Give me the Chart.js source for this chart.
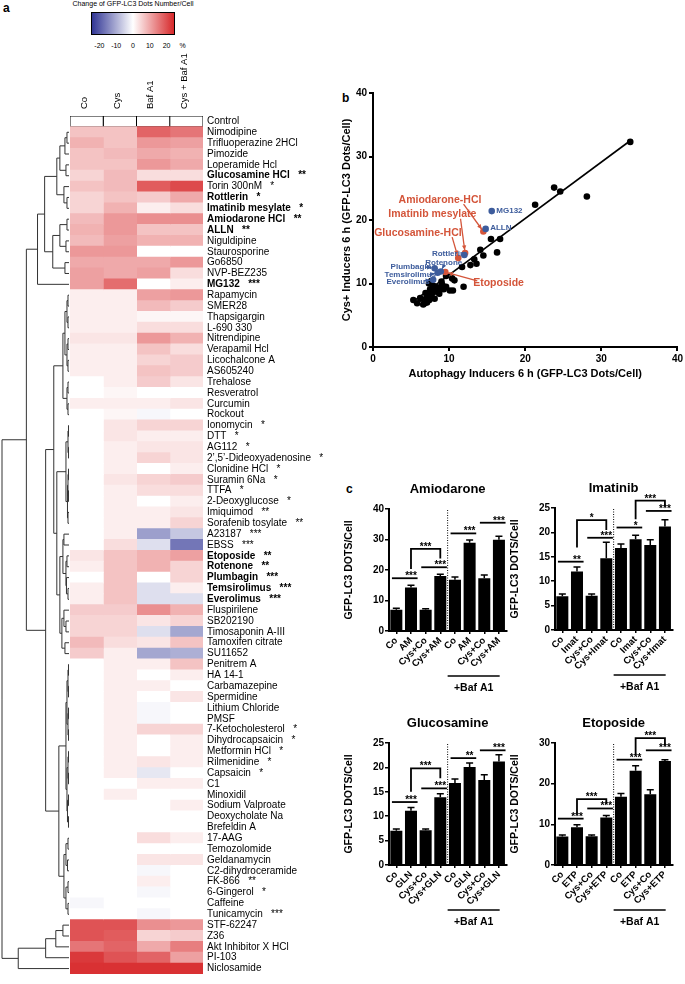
<!DOCTYPE html>
<html>
<head>
<meta charset="utf-8">
<title>Autophagy inducers screen</title>
<script src="https://cdn.jsdelivr.net/npm/chart.js@4.4.1/dist/chart.umd.min.js"></script>
<style>
  body { margin: 0; width: 685px; height: 984px; position: relative; overflow: hidden; background: #fff;
         font-family: 'Liberation Sans', Arial, sans-serif; color: #000; }
  canvas { position: absolute; }
  .panel { position: absolute; font-weight: bold; font-size: 12px; }
  #scaleTitle { position: absolute; left: 60px; width: 146px; top: 0; text-align: center; font-size: 7px; }
  #scaleBar { position: absolute; left: 91px; top: 12px; width: 84px; height: 23px; box-sizing: border-box;
              border: 1px solid #000;
              background: linear-gradient(to right, rgb(49,54,149), #fff 50%, rgb(215,40,42)); }
  .scaleTick { position: absolute; top: 42px; font-size: 7px; transform: translateX(-50%); }
</style>
</head>
<body>
<div class="panel" style="left:3px;top:1px">a</div>
<div class="panel" style="left:342px;top:91px">b</div>
<div class="panel" style="left:346px;top:482px">c</div>
<div id="scaleTitle">Change of GFP-LC3 Dots Number/Cell</div>
<div id="scaleBar"></div>
<div id="scaleTicks"></div>

<canvas id="heatmap" width="340" height="984" style="left:0;top:0"></canvas>
<canvas id="scatter" width="345" height="300" style="left:340px;top:85px"></canvas>
<canvas id="amio" width="165" height="220" style="left:343px;top:480px"></canvas>
<canvas id="imat" width="165" height="220" style="left:509px;top:479px"></canvas>
<canvas id="gluc" width="165" height="220" style="left:343px;top:714px"></canvas>
<canvas id="etop" width="165" height="220" style="left:509px;top:714px"></canvas>

<script>
const FONT = "'Liberation Sans', Arial, sans-serif";
Chart.defaults.font.family = FONT;
Chart.defaults.color = '#000';
Chart.defaults.animation = false;
Chart.defaults.plugins.legend.display = false;
Chart.defaults.plugins.tooltip.enabled = false;

// ---------- panel a: heatmap ----------
const drugNames = ['Control', 'Nimodipine', 'Trifluoperazine 2HCl', 'Pimozide', 'Loperamide Hcl',
  'Glucosamine HCl', 'Torin 300nM', 'Rottlerin', 'Imatinib mesylate', 'Amiodarone HCl', 'ALLN',
  'Niguldipine', 'Staurosporine', 'Go6850', 'NVP-BEZ235', 'MG132', 'Rapamycin', 'SMER28',
  'Thapsigargin', 'L-690 330', 'Nitrendipine', 'Verapamil Hcl', 'Licochalcone A', 'AS605240',
  'Trehalose', 'Resveratrol', 'Curcumin', 'Rockout', 'Ionomycin', 'DTT', 'AG112',
  '2’,5’-Dideoxyadenosine', 'Clonidine HCl', 'Suramin 6Na', 'TTFA', '2-Deoxyglucose', 'Imiquimod',
  'Sorafenib tosylate', 'A23187', 'EBSS', 'Etoposide', 'Rotenone', 'Plumbagin', 'Temsirolimus',
  'Everolimus', 'Fluspirilene', 'SB202190', 'Timosaponin A-III', 'Tamoxifen citrate', 'SU11652',
  'Penitrem A', 'HA 14-1', 'Carbamazepine', 'Spermidine', 'Lithium Chloride', 'PMSF',
  '7-Ketocholesterol', 'Dihydrocapsaicin', 'Metformin HCl', 'Rilmenidine', 'Capsaicin', 'C1',
  'Minoxidil', 'Sodium Valproate', 'Deoxycholate Na', 'Brefeldin A', '17-AAG', 'Temozolomide',
  'Geldanamycin', 'C2-dihydroceramide', 'FK-866', '6-Gingerol', 'Caffeine', 'Tunicamycin',
  'STF-62247', 'Z36', 'Akt Inhibitor X HCl', 'PI-103', 'Niclosamide'];

const drugStars = {
  'Glucosamine HCl': '**', 'Torin 300nM': '*', 'Rottlerin': '*', 'Imatinib mesylate': '*',
  'Amiodarone HCl': '**', 'ALLN': '**', 'MG132': '***', 'Ionomycin': '*', 'DTT': '*', 'AG112': '*',
  '2’,5’-Dideoxyadenosine': '*', 'Clonidine HCl': '*', 'Suramin 6Na': '*', 'TTFA': '*',
  '2-Deoxyglucose': '*', 'Imiquimod': '**', 'Sorafenib tosylate': '**', 'A23187': '***', 'EBSS': '***',
  'Etoposide': '**', 'Rotenone': '**', 'Plumbagin': '***', 'Temsirolimus': '***', 'Everolimus': '***',
  '7-Ketocholesterol': '*', 'Dihydrocapsaicin': '*', 'Metformin HCl': '*', 'Rilmenidine': '*',
  'Capsaicin': '*', 'FK-866': '**', '6-Gingerol': '*', 'Tunicamycin': '***'
};
const boldDrugs = ['Glucosamine HCl', 'Rottlerin', 'Imatinib mesylate', 'Amiodarone HCl', 'ALLN', 'MG132',
  'Etoposide', 'Rotenone', 'Plumbagin', 'Temsirolimus', 'Everolimus'];

const heatColumns = ['Co', 'Cys', 'Baf A1', 'Cys + Baf A1'];

// % change of GFP-LC3 dots per cell, one value per row of drugNames
const coChange = [0,
  7, 9, 7, 7, 5, 7, 5, 5, 8, 9, 8, 12, 10, 11, 11,
  2, 2, 2, 2, 3, 2, 2, 2, 0, 0, 2, 0,
  0, 0, 0, 0, 0, 0, 0, 0, 0, 0,
  0, 0, 3, 2, 0, 2, 2, 6, 5, 5, 8, 6,
  0, 0, 0, 0, 0, 0, 0, 0, 0, 0, 0, 0, 0, 0, 0, 0,
  0, 0, 0, 0, 0, 0, -1, 0,
  20, 20, 16, 23, 24];
const cysChange = [0,
  7, 7, 8, 7, 8, 8, 7, 9, 12, 12, 11, 12, 10, 10, 17,
  2, 2, 2, 2, 3, 2, 2, 2, 2, 1, 2, 1,
  3, 3, 2, 2, 2, 3, 2, 2, 2, 2,
  2, 4, 7, 7, 7, 7, 7, 6, 5, 5, 4, 2,
  2, 2, 2, 2, 2, 2, 2, 2, 2, 2, 2, 0, 2, 0, 0, 0,
  0, 0, 0, 0, 0, 0, 0, 0,
  20, 19, 18, 20, 24];
const bafChange = [0,
  18, 12, 10, 12, 4, 19, 6, 2, 13, 7, 9, 0, 10, 11, 0,
  11, 8, 1, 4, 12, 7, 5, 7, 6, 0, 2, -1,
  5, 2, 3, 5, 0, 5, 4, 0, 2, 2,
  -12, -4, 9, 9, 0, -4, -4, 13, 3, -4, 3, -11,
  2, 0, 2, 0, -1, -1, 5, 0, 0, 3, -3, 2, 0, 0, 0, 0,
  4, 0, 3, -1, 2, -1, 0, -1,
  13, 5, 10, 18, 24];
const cysBafChange = [0,
  16, 11, 9, 10, 4, 21, 10, 4, 13, 7, 9, 0, 12, 4, 2,
  12, 6, 1, 4, 9, 4, 6, 6, 3, 0, 3, 0,
  5, 2, 3, 3, 2, 6, 4, 2, 3, 5,
  -7, -17, 11, 5, 5, 2, -4, 9, 5, -11, 7, -10,
  7, 2, 0, 3, 0, 0, 5, 2, 2, 2, 0, 2, 0, 2, 0, 0,
  2, 0, 3, 0, 0, 0, 0, 0,
  12, 6, 15, 11, 24];

// hierarchical clustering: [mergeHeight, left, right], leaves are row indices
const dendrogram =
  [66,
    [42,
      [31,
        [24,
          [12, [9, [4, [2, 1, 2], 3], [3, 4, 5]], [5, 6, [2, 7, 8]]],
          [16, [9, [2, 9, 10], [3, 11, 12]], [4, 13, 14]]],
        15],
      [23,
        [15,
          [6,
            [4, [2, [1, 16, 17], [1, 18, 19]], [2, [1, 20, 21], [1, 22, 23]]],
            [2, [1, 24, 25], [1, 26, 27]]],
          [12,
            [3, [1, [0.5, 28, 29], [0.5, 30, 31]], [1.5, [1, [0.5, 32, 33], [0.5, 34, 35]], [1, 36, 37]]],
            [9,
              [6, [5, 38, 39], [3, [2, 40, 41], [2.5, 42, [1, 43, 44]]]],
              [7, [5, 45, [3, 46, 47]], [4, 48, 49]]]]],
        [10,
          [3, [2, [1, [0.5, 50, 51], [0.5, 52, 53]], [1, [0.5, 54, 55], [0.5, 56, 57]]],
              [2, [1, [0.5, 58, 59], [0.5, 60, 61]], [1.5, [0.5, 62, 63], [0.5, 64, 65]]]],
          [5, [3, [1, 66, 67], [1.5, 68, 69]], [3, [1, 70, 71], [1, 72, 73]]]]]],
    [50, [23, [13, [6, 74, 75], 76], 77], 78]];

const legendTicks = [-20, -10, 0, 10, 20];

function heatColor(v) {
  const t = Math.min(Math.abs(v) / 25, 1);
  const end = v >= 0 ? [215, 40, 42] : [49, 54, 149];
  const c = end.map(e => Math.round(255 + (e - 255) * t));
  return `rgb(${c[0]},${c[1]},${c[2]})`;
}

// color bar tick labels
const tickBox = document.getElementById('scaleTicks');
legendTicks.concat(['%']).forEach(v => {
  const d = document.createElement('div');
  d.className = 'scaleTick';
  const pos = v === '%' ? 29.5 : v;
  d.style.left = (91 + (pos + 25) / 50 * 84) + 'px';
  d.textContent = v;
  tickBox.appendChild(d);
});

const dendroPlugin = {
  id: 'dendro',
  afterDraw(chart, args, opts) {
    const { ctx, chartArea, scales: { y } } = chart;
    const leafX = chartArea.left - 1;
    const hx = h => leafX - h * (leafX - 2) / opts.maxHeight;
    ctx.save();
    ctx.strokeStyle = '#333';
    ctx.lineWidth = 1;
    const walk = node => {
      if (typeof node === 'number') return { x: leafX, y: y.getPixelForValue(node) };
      const a = walk(node[1]), b = walk(node[2]);
      const x = hx(node[0]);
      ctx.beginPath();
      ctx.moveTo(a.x, a.y); ctx.lineTo(x, a.y); ctx.lineTo(x, b.y); ctx.lineTo(b.x, b.y);
      ctx.stroke();
      return { x, y: (a.y + b.y) / 2 };
    };
    walk(opts.tree);
    ctx.restore();
  }
};

const heatSeries = [coChange, cysChange, bafChange, cysBafChange];
new Chart(document.getElementById('heatmap'), {
  type: 'bar',
  data: {
    labels: drugNames,
    datasets: heatSeries.map(vals => ({
      data: vals.map(() => 1),
      backgroundColor: vals.map(heatColor),
      borderColor: '#000',
      borderWidth: ctx => ctx.dataIndex === 0 ? 1 : 0,
      borderSkipped: false,
      inflateAmount: 0.5,
      barPercentage: 1,
      categoryPercentage: 1
    }))
  },
  options: {
    indexAxis: 'y',
    responsive: false,
    layout: { padding: { left: 70, bottom: 1 } },
    scales: {
      x: { type: 'linear', stacked: true, min: 0, max: 4, display: false },
      top: {
        type: 'category', axis: 'x', position: 'top', labels: heatColumns, offset: true,
        grid: { display: false, drawTicks: false }, border: { display: false },
        ticks: { minRotation: 90, maxRotation: 90, padding: 7, labelOffset: 9, font: { size: 9.5 } },
        afterFit: s => { s.height = 116; }
      },
      y: {
        type: 'category', stacked: true, position: 'right', offset: true,
        grid: { display: false, drawTicks: false }, border: { display: false },
        ticks: {
          autoSkip: false, padding: 4,
          callback: (v, i) => drugNames[i] + (drugStars[drugNames[i]] ? '   ' + drugStars[drugNames[i]] : ''),
          font: ctx => ({ size: 10, weight: boldDrugs.includes(drugNames[ctx.index]) ? 'bold' : 'normal' })
        },
        afterFit: s => { s.width = 137; }
      }
    },
    plugins: { dendro: { tree: dendrogram, maxHeight: 66 } }
  },
  plugins: [dendroPlugin]
});

// ---------- panel b: scatter ----------
const inducerDots = [33.8, 23.8, 24.6, 28.1, 21.3, 16.7, 15.5, 16.3, 14.1, 14.5, 13.3, 13.6, 12.8, 11.7, 11.9,
  10.5, 10.1, 10.7, 9.6, 5.3, 5.8, 6.3, 6.8, 7.0, 7.2, 7.5, 7.9, 8.1, 8.3, 8.7, 9.1, 9.6, 9.0, 7.35, 7.65,
  6.6, 7.4, 7.7, 6.9, 8.5, 9.3, 7.1, 8.0, 6.2, 7.8, 8.8, 10.4, 7.5];
const cysInducerDots = [32.3, 25.1, 24.5, 23.7, 22.4, 17.0, 17.0, 14.9, 15.3, 14.4, 13.8, 13.1, 12.9, 12.6, 9.5,
  8.9, 8.9, 10.5, 11.2, 7.4, 6.9, 7.6, 6.9, 7.6, 8.1, 9.1, 8.6, 7.6, 8.9, 8.4, 9.8, 9.5, 10.3, 10.0, 10.4,
  6.7, 7.4, 7.9, 8.5, 9.4, 9.1, 7.0, 9.6, 7.7, 9.2, 9.0, 10.8, 8.2];

const blueNames = ['MG132', 'ALLN', 'Rottlerin', 'Rotenone', 'Plumbagin', 'Temsirolimus', 'Everolimus'];
const blueX = [15.6, 14.8, 12.0, 8.9, 8.1, 8.5, 7.9];
const blueY = [21.4, 18.6, 14.5, 11.9, 12.4, 11.7, 10.6];
const redNames = ['Amiodarone-HCl', 'Imatinib mesylate', 'Glucosamine-HCl', 'Etoposide'];
const redX = [14.5, 12.1, 11.2, 9.5];
const redY = [18.2, 14.8, 14.0, 11.8];

const fitX = [5.3, 33.7];
const fitY = [7.2, 32.4];

const RED = '#d4553a';
const BLUE = '#3d5c9c';

// label anchors in data units; arrows start at `from`
const scatterNotes = [
  { name: 'Amiodarone-HCl', color: RED, size: 10.5, at: [8.8, 23.2], from: [11.9, 22.5] },
  { name: 'Imatinib mesylate', color: RED, size: 10.5, at: [7.8, 21.0], from: [11.5, 20.2] },
  { name: 'Glucosamine-HCl', color: RED, size: 10.5, at: [5.9, 18.0], from: [10.4, 17.3] },
  { name: 'Etoposide', color: RED, size: 10.5, at: [16.5, 10.1], from: [13.7, 10.4] },
  { name: 'MG132', color: BLUE, size: 8, at: [16.2, 21.4], align: 'left' },
  { name: 'ALLN', color: BLUE, size: 8, at: [15.4, 18.7], align: 'left' },
  { name: 'Rottlerin', color: BLUE, size: 8, at: [9.9, 14.7] },
  { name: 'Rotenone', color: BLUE, size: 8, at: [9.3, 13.2], from: [9.3, 12.8] },
  { name: 'Plumbagin', color: BLUE, size: 8, at: [5.0, 12.6], from: [6.9, 12.6] },
  { name: 'Temsirolimus', color: BLUE, size: 8, at: [4.9, 11.4], from: [7.4, 11.4] },
  { name: 'Everolimus', color: BLUE, size: 8, at: [4.6, 10.3], from: [6.7, 10.4] }
];

const notePlugin = {
  id: 'notes',
  afterDatasetsDraw(chart) {
    const { ctx, scales: { x, y } } = chart;
    ctx.save();
    scatterNotes.forEach(n => {
      const isRed = redNames.includes(n.name);
      const k = isRed ? redNames.indexOf(n.name) : blueNames.indexOf(n.name);
      const tx = x.getPixelForValue(isRed ? redX[k] : blueX[k]);
      const ty = y.getPixelForValue(isRed ? redY[k] : blueY[k]);
      ctx.fillStyle = n.color;
      ctx.strokeStyle = n.color;
      ctx.font = `bold ${n.size}px ${FONT}`;
      ctx.textAlign = n.align || 'center';
      ctx.textBaseline = 'middle';
      ctx.fillText(n.name, x.getPixelForValue(n.at[0]), y.getPixelForValue(n.at[1]));
      if (n.from) {
        const fx = x.getPixelForValue(n.from[0]), fy = y.getPixelForValue(n.from[1]);
        const ang = Math.atan2(ty - fy, tx - fx);
        const ex = tx - Math.cos(ang) * 3, ey = ty - Math.sin(ang) * 3;
        ctx.lineWidth = 1.3;
        ctx.beginPath(); ctx.moveTo(fx, fy); ctx.lineTo(ex, ey); ctx.stroke();
        ctx.beginPath();
        ctx.moveTo(ex, ey);
        ctx.lineTo(ex - 5 * Math.cos(ang - 0.45), ey - 5 * Math.sin(ang - 0.45));
        ctx.lineTo(ex - 5 * Math.cos(ang + 0.45), ey - 5 * Math.sin(ang + 0.45));
        ctx.closePath(); ctx.fill();
      }
    });
    ctx.restore();
  }
};

const toPoints = (xs, ys) => xs.map((v, i) => ({ x: v, y: ys[i] }));
const axisCommon = {
  type: 'linear', min: 0, max: 40,
  border: { color: '#000', width: 2 },
  grid: { drawOnChartArea: false, color: '#000', lineWidth: 2, tickLength: 4 },
  ticks: { stepSize: 10, font: { size: 10, weight: 'bold' }, padding: 2 }
};
new Chart(document.getElementById('scatter'), {
  type: 'scatter',
  data: {
    datasets: [
      { data: toPoints(blueX, blueY), backgroundColor: BLUE, pointRadius: 3.3, borderWidth: 0, order: 0 },
      { data: toPoints(redX, redY), backgroundColor: RED, pointRadius: 3.3, borderWidth: 0, order: 1 },
      { data: toPoints(inducerDots, cysInducerDots), backgroundColor: '#000', pointRadius: 3.3, borderWidth: 0, order: 2 },
      { type: 'line', data: toPoints(fitX, fitY), borderColor: '#000', borderWidth: 1.6, pointRadius: 0, order: 3 }
    ]
  },
  options: {
    responsive: false,
    layout: { padding: { top: 0, right: 0 } },
    scales: {
      x: { ...axisCommon, title: { display: true, text: 'Autophagy Inducers 6 h (GFP-LC3 Dots/Cell)',
             font: { size: 11, weight: 'bold' }, padding: { top: 4 } },
           afterFit: s => { s.height = 38; } },
      y: { ...axisCommon, title: { display: true, text: 'Cys+ Inducers 6 h (GFP-LC3 Dots/Cell)',
             font: { size: 11, weight: 'bold' }, padding: 0 },
           afterFit: s => { s.width = 33; } }
    }
  },
  plugins: [notePlugin]
});

// ---------- panel c: bar charts ----------
const amioLabels = ['Co', 'AM', 'Cys+Co', 'Cys+AM', 'Co', 'AM', 'Cys+Co', 'Cys+AM'];
const amioMeans = [7.0, 14.3, 7.0, 18.0, 16.8, 28.9, 17.3, 29.9];
const amioSem = [0.5, 0.7, 0.3, 0.6, 0.9, 0.9, 1.1, 1.2];

const imatLabels = ['Co', 'Imat', 'Cys+Co', 'Cys+Imat', 'Co', 'Imat', 'Cys+Co', 'Cys+Imat'];
const imatMeans = [6.9, 12.0, 7.0, 14.7, 16.8, 18.6, 17.4, 21.2];
const imatSem = [0.5, 0.9, 0.4, 3.3, 0.8, 0.8, 1.1, 1.4];

const glucLabels = ['Co', 'GLN', 'Cys+Co', 'Cys+GLN', 'Co', 'GLN', 'Cys+Co', 'Cys+GLN'];
const glucMeans = [7.0, 11.1, 7.1, 13.9, 16.8, 20.1, 17.4, 21.2];
const glucSem = [0.4, 0.7, 0.3, 0.7, 0.8, 0.8, 1.1, 1.4];

const etopLabels = ['Co', 'ETP', 'Cys+Co', 'Cys+ETP', 'Co', 'ETP', 'Cys+Co', 'Cys+ETP'];
const etopMeans = [7.0, 9.3, 7.1, 11.7, 16.8, 23.2, 17.4, 25.6];
const etopSem = [0.4, 0.6, 0.3, 0.5, 0.8, 1.2, 1.1, 0.3];

// significance: lines [from, to, y, stars]; brackets [from, to, top, leftLeg, rightLeg, stars]
const amioLines = [[0, 1, 17.3, '***'], [2, 3, 20.9, '***'], [4, 5, 32.0, '***'], [6, 7, 35.5, '***']];
const amioBrackets = [[1, 3, 26.9, 20.3, 23.8, '***']];
const imatLines = [[0, 1, 14.0, '**'], [2, 3, 18.9, '***'], [4, 5, 21.0, '*'], [6, 7, 24.4, '***']];
const imatBrackets = [[1, 3, 22.5, 16.9, 20.5, '*'], [5, 7, 26.5, 22.7, 25.4, '***']];
const glucLines = [[0, 1, 12.9, '***'], [2, 3, 15.7, '***'], [4, 5, 21.9, '**'], [6, 7, 23.5, '***']];
const glucBrackets = [[1, 3, 19.8, 15.0, 17.8, '***']];
const etopLines = [[0, 1, 11.4, '***'], [2, 3, 13.9, '***'], [4, 5, 25.9, '***'], [6, 7, 28.2, '***']];
const etopBrackets = [[1, 3, 16.2, 12.6, 15.0, '***'], [5, 7, 31.2, 27.1, 29.5, '***']];

const barExtras = {
  id: 'barExtras',
  afterDatasetsDraw(chart, args, o) {
    const { ctx, chartArea: ca, scales: { x, y } } = chart;
    const step = x.getPixelForValue(1) - x.getPixelForValue(0);
    const px = i => x.getPixelForValue(0) + i * step;
    const means = chart.data.datasets[0].data;
    ctx.save();
    ctx.strokeStyle = '#000';
    ctx.fillStyle = '#000';
    // error bars
    ctx.lineWidth = 1.5;
    means.forEach((m, i) => {
      const top = y.getPixelForValue(m + o.sem[i]);
      ctx.beginPath();
      ctx.moveTo(px(i), y.getPixelForValue(m)); ctx.lineTo(px(i), top);
      ctx.moveTo(px(i) - 3.5, top); ctx.lineTo(px(i) + 3.5, top);
      ctx.stroke();
    });
    // dotted divider
    ctx.lineWidth = 1;
    ctx.setLineDash([1, 1.5]);
    ctx.beginPath(); ctx.moveTo(px(3.5), ca.bottom); ctx.lineTo(px(3.5), ca.top); ctx.stroke();
    ctx.setLineDash([]);
    // significance
    ctx.lineWidth = 1.8;
    ctx.font = `bold 10px ${FONT}`;
    ctx.textAlign = 'center';
    ctx.textBaseline = 'alphabetic';
    o.lines.forEach(([a, b, v, s]) => {
      const yy = y.getPixelForValue(v);
      ctx.beginPath(); ctx.moveTo(px(a - 0.3), yy); ctx.lineTo(px(b + 0.45), yy); ctx.stroke();
      ctx.fillText(s, px(b), yy + 1);
    });
    o.brackets.forEach(([a, b, v, l, r, s]) => {
      const yy = y.getPixelForValue(v);
      ctx.beginPath();
      ctx.moveTo(px(a), y.getPixelForValue(l)); ctx.lineTo(px(a), yy);
      ctx.lineTo(px(b), yy); ctx.lineTo(px(b), y.getPixelForValue(r));
      ctx.stroke();
      ctx.fillText(s, (px(a) + px(b)) / 2, yy + 1);
    });
    // title
    ctx.font = `bold 13px ${FONT}`;
    ctx.textBaseline = 'middle';
    ctx.fillText(o.title, (ca.left + ca.right) / 2, ca.top - 20);
    // +Baf A1 group marker
    ctx.lineWidth = 1.5;
    ctx.beginPath(); ctx.moveTo(px(3.5), ca.bottom + 45); ctx.lineTo(px(7.05), ca.bottom + 45); ctx.stroke();
    ctx.font = `bold 10.5px ${FONT}`;
    ctx.fillText('+Baf A1', (px(3.5) + px(7.05)) / 2, ca.bottom + 57);
    ctx.restore();
  }
};

function barChart(id, title, labels, means, sem, yMax, yStep, lines, brackets) {
  return new Chart(document.getElementById(id), {
    type: 'bar',
    data: {
      labels,
      datasets: [{ data: means, backgroundColor: '#000', barPercentage: 0.82, categoryPercentage: 1 }]
    },
    options: {
      responsive: false,
      layout: { padding: { top: 29, right: 0, left: 0 } },
      scales: {
        x: {
          grid: { drawOnChartArea: false, offset: false, color: '#000', lineWidth: 1.5, tickLength: 3 },
          border: { color: '#000', width: 2 },
          ticks: { minRotation: 45, maxRotation: 45, autoSkip: false, padding: 1,
                   font: { size: 9.5, weight: 'bold' } },
          afterFit: s => { s.height = 69; }
        },
        y: {
          min: 0, max: yMax,
          grid: { drawOnChartArea: false, color: '#000', lineWidth: 1.5, tickLength: 4 },
          border: { color: '#000', width: 2 },
          ticks: { stepSize: yStep, padding: 1, font: { size: 10, weight: 'bold' } },
          title: { display: true, text: 'GFP-LC3 DOTS/Cell', font: { size: 10.5, weight: 'bold' }, padding: 0 },
          afterFit: s => { s.width = 46; }
        }
      },
      plugins: { barExtras: { title, sem, lines, brackets } }
    },
    plugins: [barExtras]
  });
}

barChart('amio', 'Amiodarone', amioLabels, amioMeans, amioSem, 40, 10, amioLines, amioBrackets);
barChart('imat', 'Imatinib', imatLabels, imatMeans, imatSem, 25, 5, imatLines, imatBrackets);
barChart('gluc', 'Glucosamine', glucLabels, glucMeans, glucSem, 25, 5, glucLines, glucBrackets);
barChart('etop', 'Etoposide', etopLabels, etopMeans, etopSem, 30, 10, etopLines, etopBrackets);
</script>
</body>
</html>
